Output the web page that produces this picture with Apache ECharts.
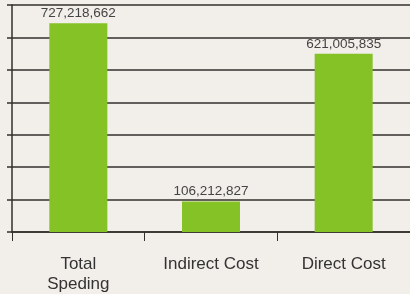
<!DOCTYPE html>
<html><head><meta charset="utf-8">
<script src="https://cdn.jsdelivr.net/npm/echarts@6/dist/echarts.min.js"></script>
<style>html,body{margin:0;padding:0;background:#f2eeea;}#c{width:410px;height:294px;}</style>
</head><body><div id="c"></div>
<script>
const categories = ["Total\nSpeding", "Indirect Cost", "Direct Cost"];
const values = [727218662, 106212827, 621005835];
const axisStep = 113000000;
const axisSteps = 7;

const chart = echarts.init(document.getElementById('c'), null, {renderer: 'canvas'});
chart.setOption({
  backgroundColor: '#f2eeea',
  animation: false,
  grid: {left: 12, right: 0, top: 5, bottom: 62, containLabel: false},
  xAxis: {
    type: 'category', data: categories,
    axisLine: {lineStyle: {color: '#332f2c', width: 1.5}},
    axisTick: {show: true, length: 9, lineStyle: {color: '#332f2c', width: 1}},
    axisLabel: {fontFamily: 'Liberation Sans', fontSize: 17, color: '#333', margin: 22, lineHeight: 20}
  },
  yAxis: {
    type: 'value', min: 0, max: axisStep * axisSteps, interval: axisStep,
    axisLine: {show: true, lineStyle: {color: '#332f2c', width: 1.5}},
    axisTick: {show: true, length: 5, lineStyle: {color: '#332f2c', width: 1.5}},
    axisLabel: {show: false},
    splitLine: {show: true, lineStyle: {color: '#332f2c', width: 1.6}}
  },
  series: [{
    type: 'bar', data: values, barWidth: 58,
    itemStyle: {color: '#84c225'},
    label: {
      show: true, position: 'top', distance: 3,
      fontFamily: 'Liberation Sans', fontSize: 13.5, color: '#444',
      formatter: p => p.value.toLocaleString('en-US')
    }
  }]
});
</script></body></html>
